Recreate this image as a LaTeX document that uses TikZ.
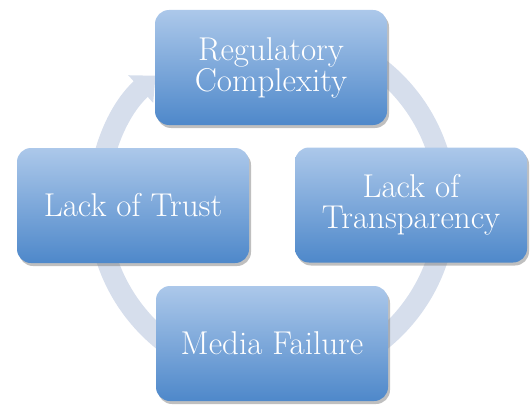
\documentclass[tikz,border=0pt]{standalone}
\usetikzlibrary{arrows.meta,calc,shadows}

\definecolor{boxtop}{RGB}{172,200,234}
\definecolor{boxbot}{RGB}{78,136,202}
\definecolor{ringcol}{RGB}{214,222,236}

\begin{document}
\begin{tikzpicture}[x=1pt,y=1pt,>=Stealth,
  cyclebox/.style={rounded corners=14pt,minimum width=232pt,minimum height=115pt,
    top color=boxtop,bottom color=boxbot,draw=none,text=white,align=center,
    font=\fontsize{33}{31}\selectfont,
    drop shadow={shadow xshift=2pt,shadow yshift=-3pt,opacity=0.5}}]

\useasboundingbox (0,0) rectangle (532,405);

% ---------- Centre of the cycle ----------
\coordinate (O) at (272,200);
\def\R{174}    % ring radius

% ---------- Ring arrow (behind the boxes) ----------
\draw[line width=21pt,ringcol,-{Triangle[width=36pt,length=20pt]}]
  ($(O)+(95:\R)$) arc[start angle=95,end angle=-228,radius=\R];

% ---------- Boxes ----------
\node[cyclebox] (reg)   at ($(O)+(-1,137.5)$)  {Regulatory\\Complexity};
\node[cyclebox] (trans) at ($(O)+(139,0)$)     {Lack of\\Transparency};
\node[cyclebox] (media) at ($(O)+(0,-138.5)$)  {Media Failure};
\node[cyclebox] (trust) at ($(O)+(-139,-0.5)$) {Lack of Trust};

\end{tikzpicture}
\end{document}
